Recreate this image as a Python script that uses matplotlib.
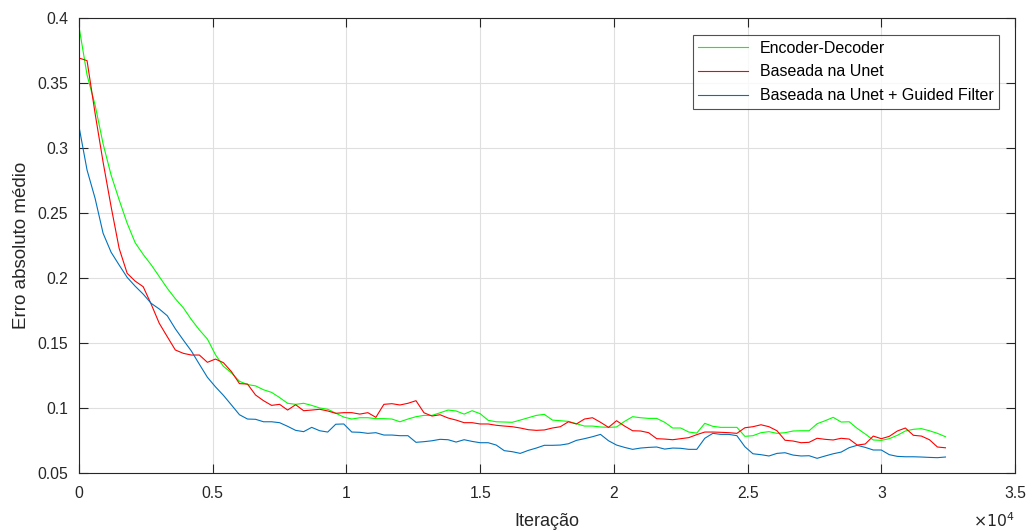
import numpy as np
import matplotlib
matplotlib.use("Agg")
from matplotlib import pyplot as plt
from matplotlib.ticker import FuncFormatter

plt.rcParams['font.family'] = ['Liberation Sans', 'DejaVu Sans']

# iteration axis: one sample every 300 iterations, 0 .. 32400
step = 300
n_points = 109

enc_dec = [0.393, 0.356, 0.333, 0.303, 0.279, 0.260, 0.242, 0.227, 0.218, 0.210,
           0.201, 0.192, 0.184, 0.177, 0.168, 0.160, 0.153, 0.141, 0.132, 0.127,
           0.1205, 0.118, 0.117, 0.114, 0.112, 0.108, 0.1036, 0.1028, 0.1036, 0.102,
           0.100, 0.099, 0.096, 0.093, 0.0915, 0.0925, 0.0925, 0.0918, 0.0918, 0.0915,
           0.0894, 0.0915, 0.0933, 0.0943, 0.0943, 0.0963, 0.0984, 0.0977, 0.0953, 0.0979,
           0.0956, 0.0905, 0.0894, 0.0892, 0.0890, 0.0907, 0.0925, 0.0943, 0.0951, 0.0907,
           0.0902, 0.0897, 0.0879, 0.0861, 0.0861, 0.0854, 0.0851, 0.0854, 0.0897, 0.0933,
           0.0925, 0.0920, 0.0920, 0.0890, 0.0846, 0.0846, 0.0815, 0.0807, 0.0882, 0.0859,
           0.0851, 0.0851, 0.0851, 0.0782, 0.0787, 0.0810, 0.0818, 0.0805, 0.0810, 0.0823,
           0.0825, 0.0825, 0.0879, 0.0902, 0.0928, 0.0892, 0.0894, 0.0843, 0.0800, 0.0754,
           0.0751, 0.0764, 0.0790, 0.0823, 0.0836, 0.0841, 0.0825, 0.0805, 0.0779]

unet = [0.369, 0.367, 0.3265, 0.289, 0.2547, 0.2227, 0.2035, 0.1975, 0.1932, 0.1797,
        0.1651, 0.1548, 0.1446, 0.1420, 0.1407, 0.1407, 0.1351, 0.1376, 0.1348, 0.1279,
        0.1187, 0.1184, 0.1100, 0.1056, 0.1020, 0.1028, 0.0984, 0.1025, 0.0979, 0.0984,
        0.099, 0.0977, 0.0959, 0.0964, 0.0964, 0.0953, 0.0964, 0.0928, 0.1028, 0.1033,
        0.1023, 0.1036, 0.1056, 0.0963, 0.0938, 0.0948, 0.0923, 0.0907, 0.0887, 0.0887,
        0.0877, 0.0877, 0.0867, 0.0861, 0.0856, 0.0846, 0.0833, 0.0828, 0.0831, 0.0846,
        0.0856, 0.0894, 0.0877, 0.0915, 0.0925, 0.0890, 0.0851, 0.0902, 0.0861, 0.0825,
        0.0823, 0.0810, 0.0764, 0.0761, 0.0756, 0.0764, 0.0772, 0.0795, 0.0815, 0.0815,
        0.0813, 0.0810, 0.0805, 0.0848, 0.0856, 0.0871, 0.0856, 0.0825, 0.0752, 0.0746,
        0.0733, 0.0736, 0.0767, 0.0759, 0.0754, 0.0767, 0.0761, 0.0715, 0.0723, 0.0784,
        0.0764, 0.0782, 0.0823, 0.0846, 0.0790, 0.0784, 0.0756, 0.0700, 0.0694]

unet_gf = [0.3162, 0.2829, 0.2612, 0.2343, 0.2197, 0.2099, 0.2004, 0.1936, 0.1875, 0.1804,
           0.1761, 0.1709, 0.1609, 0.1522, 0.1438, 0.1336, 0.1236, 0.1163, 0.1097, 0.1023,
           0.0948, 0.0915, 0.0913, 0.0894, 0.0894, 0.0887, 0.0859, 0.0828, 0.0818, 0.0851,
           0.0825, 0.0815, 0.0875, 0.0877, 0.0815, 0.0813, 0.0805, 0.0810, 0.0792, 0.0792,
           0.0787, 0.0787, 0.0736, 0.0741, 0.0748, 0.0759, 0.0756, 0.0738, 0.0756, 0.0743,
           0.0733, 0.0733, 0.0715, 0.0672, 0.0664, 0.0651, 0.0674, 0.0692, 0.0713, 0.0713,
           0.0715, 0.0725, 0.0751, 0.0764, 0.0779, 0.0797, 0.0748, 0.0715, 0.0697, 0.0682,
           0.0692, 0.0697, 0.0700, 0.0684, 0.0692, 0.0690, 0.0682, 0.0682, 0.0767, 0.0805,
           0.0797, 0.0797, 0.0787, 0.0702, 0.0648, 0.0641, 0.0631, 0.0651, 0.0656, 0.0638,
           0.0631, 0.0633, 0.0613, 0.0631, 0.0648, 0.0661, 0.0695, 0.0713, 0.0697, 0.0677,
           0.0677, 0.0641, 0.0628, 0.0625, 0.0625, 0.0623, 0.0620, 0.0618, 0.0623]

labels = ["Encoder-Decoder", "Baseada na Unet", "Baseada na Unet + Guided Filter"]
colors = ["#00ff00", "#ff0000", "#0072bd"]

iters = np.arange(n_points) * step

dark = "#262626"
fig = plt.figure(figsize=(10.29, 5.30), dpi=100)
ax = fig.add_axes([0.0768, 0.1075, 0.9096, 0.8591])

for y, c, lab in zip([enc_dec, unet, unet_gf], colors, labels):
    ax.plot(iters, y, color=c, linewidth=0.8, label=lab)

ax.set_xlim(0, 35000)
ax.set_ylim(0.05, 0.4)
ax.set_xticks(np.arange(0, 35001, 5000))
ax.set_yticks(np.arange(0.05, 0.401, 0.05))
ax.xaxis.set_major_formatter(FuncFormatter(lambda v, p: "%g" % (v / 1e4)))
ax.yaxis.set_major_formatter(FuncFormatter(lambda v, p: "%g" % round(v, 2)))

ax.grid(True, color="#dfdfdf", linewidth=0.8)
ax.set_axisbelow(True)
ax.tick_params(direction="in", length=6.5, width=0.8, colors=dark,
               labelsize=11.3, top=True, right=True)
ax.tick_params(axis="x", pad=9)
ax.tick_params(axis="y", pad=8)
for s in ax.spines.values():
    s.set_color(dark)
    s.set_linewidth(0.8)

ax.set_xlabel("Iteração", fontsize=13, color=dark, labelpad=9)
ax.set_ylabel("Erro absoluto médio", fontsize=13.5, color=dark, labelpad=5)
fig.text(0.986, 0.0, r"$\times10^4$", ha="right", va="bottom", fontsize=11.3, color=dark)

leg = ax.legend(loc="upper right", bbox_to_anchor=(999 / 1029, 1 - 35 / 530),
                bbox_transform=fig.transFigure, borderaxespad=0, fontsize=11.5,
                frameon=True, fancybox=False, edgecolor=dark, handlelength=3.1,
                borderpad=0.35, labelspacing=0.55, handletextpad=0.75)
leg.get_frame().set_linewidth(0.8)

fig.savefig("out.png", dpi=100)
